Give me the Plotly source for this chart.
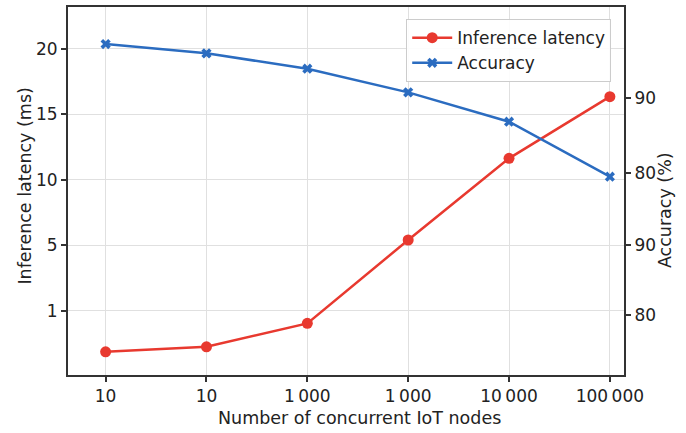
import plotly.graph_objects as go

# Data (axis units)
x_labels = ["10", "10", "1\u2009000", "1\u2009000", "10\u2009000", "100\u2009000"]
x_pos = [0, 1, 2, 3, 4, 5]
latency = [-3.13, -2.75, -0.96, 5.40, 11.63, 16.34]
accuracy = [97.10, 95.87, 93.84, 90.71, 86.83, 79.55]

left_tickvals = [0, 5, 10, 15, 20]
left_ticktext = ["1", "5", "10", "15", "20"]
right_tickvals = [90, 80, 70.52, 61.26]
right_ticktext = ["90", "80", "90", "80"]

RED = "#e8392f"
BLUE = "#2b6cc0"
FONT = "DejaVu Sans"
AX = "#333333"
TXT = "#222222"

fig = go.Figure()
fig.add_trace(go.Scatter(
    x=x_pos, y=latency, name="Inference latency", mode="lines+markers",
    line=dict(color=RED, width=2.5), marker=dict(symbol="circle", size=11, color=RED),
    yaxis="y"))
fig.add_trace(go.Scatter(
    x=x_pos, y=accuracy, name="Accuracy", mode="lines+markers",
    line=dict(color=BLUE, width=2.5), marker=dict(symbol="x", size=9, color=BLUE),
    yaxis="y2"))

axis_common = dict(
    showline=True, linecolor=AX, linewidth=2,
    ticks="outside", ticklen=5, tickcolor=AX, tickwidth=1.5,
    zeroline=False, automargin=False, tickfont=dict(size=17),
)

fig.update_layout(
    width=686, height=433,
    margin=dict(l=68, r=62, t=7, b=58, autoexpand=False),
    paper_bgcolor="white", plot_bgcolor="white",
    font=dict(family=FONT, size=17, color=TXT),
    xaxis=dict(
        range=[-0.373, 5.14], tickvals=x_pos, ticktext=x_labels,
        showgrid=True, gridcolor="#e0e0e0", gridwidth=1, mirror=True,
        **axis_common,
    ),
    yaxis=dict(
        range=[-4.9, 23.18], tickvals=left_tickvals, ticktext=left_ticktext,
        showgrid=True, gridcolor="#e0e0e0", gridwidth=1,
        **axis_common,
    ),
    yaxis2=dict(
        overlaying="y", side="right",
        range=[53.32, 102.0], tickvals=right_tickvals, ticktext=right_ticktext,
        showgrid=False,
        **axis_common,
    ),
    legend=dict(
        x=0.977, xanchor="right", y=0.967, yanchor="top",
        bgcolor="rgba(255,255,255,0.9)", bordercolor="#cccccc", borderwidth=1,
        font=dict(size=17), itemwidth=40,
    ),
    showlegend=True,
    annotations=[
        dict(text="Number of concurrent IoT nodes", xref="paper", yref="paper",
             x=0.525, y=-0.117, xanchor="center", yanchor="middle",
             showarrow=False, font=dict(size=17.5, color=TXT)),
        dict(text="Inference latency (ms)", xref="paper", yref="paper",
             x=-0.0773, y=0.512, xanchor="center", yanchor="middle", textangle=-90,
             showarrow=False, font=dict(size=17.5, color=TXT)),
        dict(text="Accuracy (%)", xref="paper", yref="paper",
             x=1.0737, y=0.448, xanchor="center", yanchor="middle", textangle=-90,
             showarrow=False, font=dict(size=17.5, color=TXT)),
    ],
)

fig.write_html("out.html", config={"displayModeBar": False},
               post_script="document.body.style.margin='0';document.body.style.overflow='hidden';")
